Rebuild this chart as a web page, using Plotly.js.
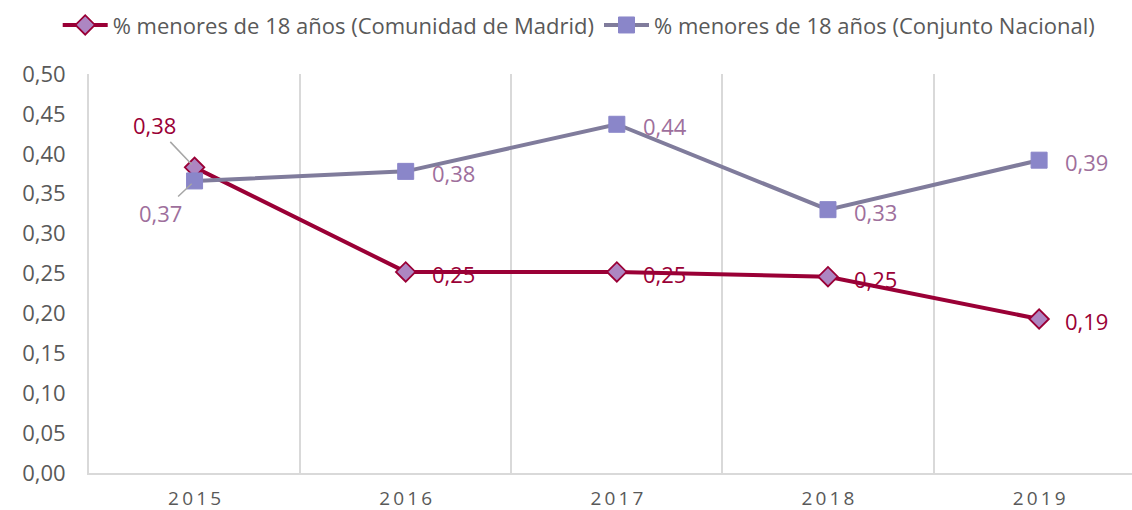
<!DOCTYPE html>
<html>
<head>
<meta charset="utf-8">
<script src="https://cdn.plot.ly/plotly-3.0.1.min.js"></script>
<style>html,body{margin:0;padding:0;background:#fff;}#chart{width:1132px;height:510px;}</style>
</head>
<body>
<div id="chart"></div>
<script>
const years = ['2015', '2016', '2017', '2018', '2019'];
const madrid = [0.383, 0.252, 0.252, 0.246, 0.193];
const nacional = [0.366, 0.378, 0.437, 0.330, 0.392];
const madridName = '% menores de 18 años (Comunidad de Madrid)';
const nacionalName = '% menores de 18 años (Conjunto Nacional)';
const yTicks = [0, 0.05, 0.10, 0.15, 0.20, 0.25, 0.30, 0.35, 0.40, 0.45, 0.50];

const fmt = v => v.toFixed(2).replace('.', ',');
const FONT = '"Open Sans", Lato, sans-serif';
const cMad = '#9a0036', cMadLbl = '#9a0036';
const cNac = '#807c9c', cNacLbl = '#9e6f9c';
const idx = years.map((_, i) => i);

const traces = [
  {
    x: idx, y: madrid, name: madridName, type: 'scatter', mode: 'lines+markers',
    line: {color: cMad, width: 4},
    marker: {symbol: 'diamond', size: 15, color: '#ad86c2', line: {color: cMad, width: 1.8}},
    hoverinfo: 'skip'
  },
  {
    x: idx, y: nacional, name: nacionalName, type: 'scatter', mode: 'lines+markers',
    line: {color: cNac, width: 4},
    marker: {symbol: 'square', size: 16, color: '#8a86c9', line: {color: '#8a86c9', width: 1}},
    hoverinfo: 'skip'
  }
];

const LBL = 22;
const annotations = [];
idx.forEach(i => {
  if (i === 0) {
    annotations.push({x: i, y: madrid[i], xref: 'x', yref: 'y', text: fmt(madrid[i]), showarrow: true, arrowhead: 0,
      arrowwidth: 1.5, arrowcolor: '#a6a6a6', ax: -40, ay: -42, standoff: 4,
      font: {family: FONT, size: LBL, color: cMadLbl}});
    annotations.push({x: i, y: nacional[i], xref: 'x', yref: 'y', text: fmt(nacional[i]), showarrow: true, arrowhead: 0,
      arrowwidth: 1.5, arrowcolor: '#a6a6a6', ax: -34, ay: 32, standoff: 4,
      font: {family: FONT, size: LBL, color: cNacLbl}});
  } else {
    annotations.push({x: i, y: madrid[i], xref: 'x', yref: 'y', text: fmt(madrid[i]), showarrow: false,
      xanchor: 'left', xshift: 24, yshift: -2,
      font: {family: FONT, size: LBL, color: cMadLbl}});
    annotations.push({x: i, y: nacional[i], xref: 'x', yref: 'y', text: fmt(nacional[i]), showarrow: false,
      xanchor: 'left', xshift: 24, yshift: -2,
      font: {family: FONT, size: LBL, color: cNacLbl}});
  }
});

const layout = {
  width: 1132, height: 510,
  margin: {l: 89, r: 0, t: 74, b: 37},
  paper_bgcolor: '#fff', plot_bgcolor: '#fff',
  font: {family: FONT, color: '#595959'},
  showlegend: true,
  legend: {orientation: 'h', x: -0.03, xanchor: 'left', y: 1.175, yanchor: 'top',
    font: {family: FONT, size: 22, color: '#595959'}, itemwidth: 45, traceorder: 'normal'},
  xaxis: {
    type: 'linear', range: [-0.5, 4.44],
    tickmode: 'array', tickvals: idx, ticktext: years.map(y => y.split('').join('\u2009')),
    showgrid: false,
    minor: {tickmode: 'array', tickvals: idx.slice(0, -1).map(i => i + 0.5), showgrid: true,
      gridcolor: '#d9d9d9', gridwidth: 2, ticks: ''},
    showline: true, linecolor: '#d9d9d9', linewidth: 2,
    ticks: '', ticklabelstandoff: 7,
    tickfont: {family: FONT, size: 19, color: '#595959'},
    zeroline: false, fixedrange: true
  },
  yaxis: {
    range: [0, 0.5], tickmode: 'array', tickvals: yTicks, ticktext: yTicks.map(fmt),
    showgrid: false, zeroline: false,
    showline: true, linecolor: '#d9d9d9', linewidth: 2,
    ticks: '', ticklabelstandoff: 17,
    tickfont: {family: FONT, size: 22, color: '#595959'},
    fixedrange: true
  },
  annotations: annotations
};

Plotly.newPlot('chart', traces, layout, {displayModeBar: false, staticPlot: true});
</script>
</body>
</html>
